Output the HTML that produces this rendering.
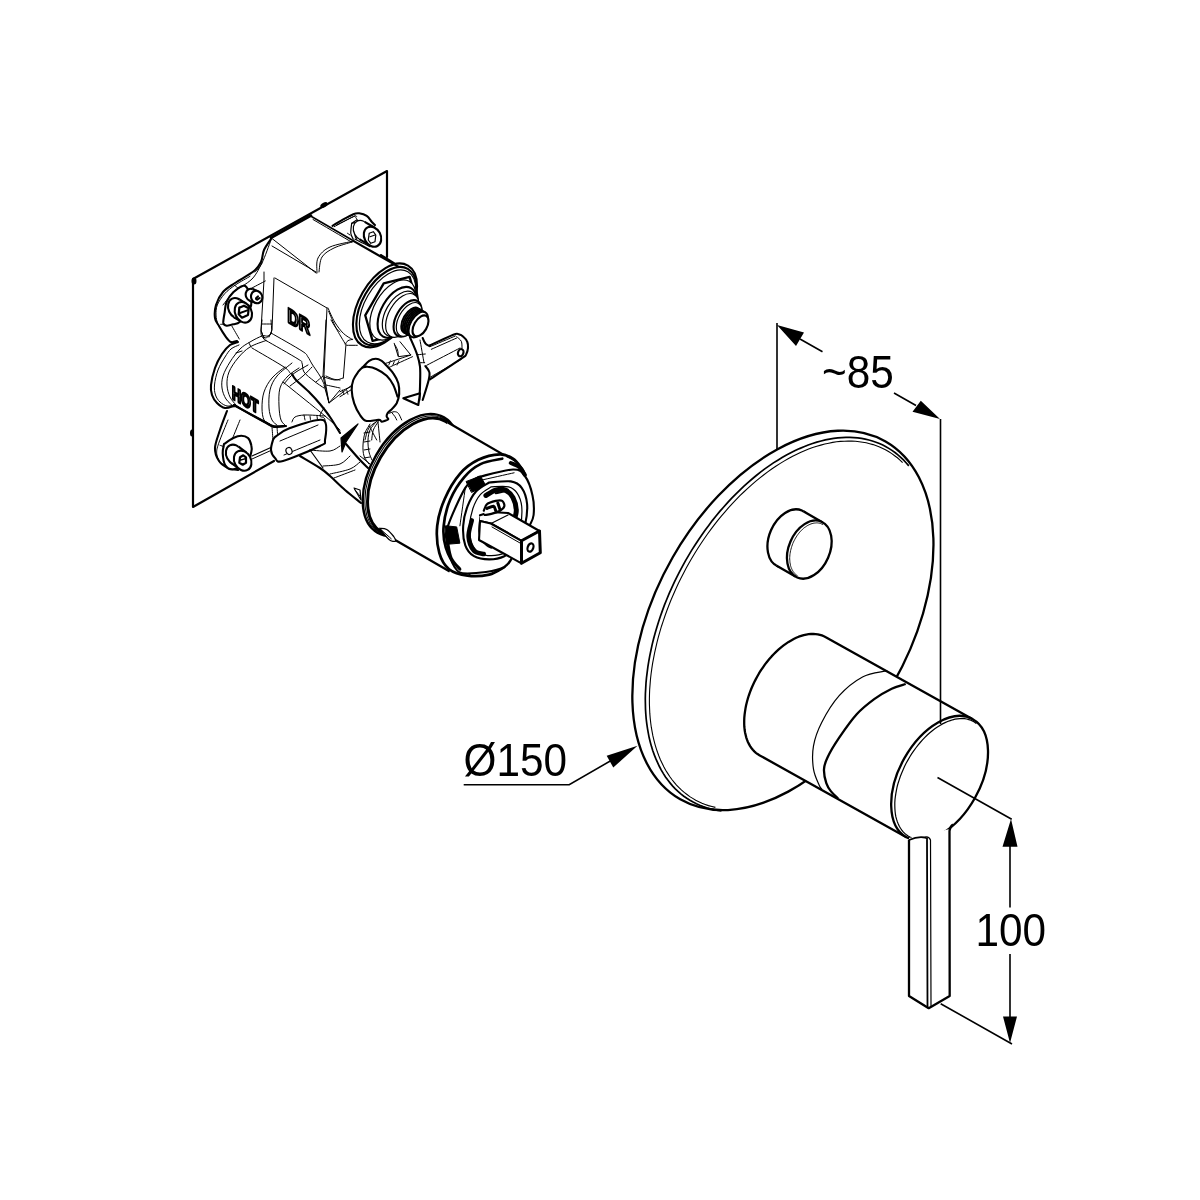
<!DOCTYPE html>
<html><head><meta charset="utf-8"><style>html,body{margin:0;padding:0;background:#fff;width:1200px;height:1200px;overflow:hidden}svg{display:block;filter:grayscale(1)}</style></head>
<body><svg width="1200" height="1200" viewBox="0 0 1200 1200">
<rect width="1200" height="1200" fill="#fff"/>
<path d="M387.0,257.0 L387.0,171.0 L193.0,279.0 L193.0,507.0 L274.0,461.0" fill="none" stroke="#000" stroke-width="2.2" stroke-linejoin="round" stroke-linecap="round"/>
<ellipse cx="194" cy="281" rx="2.5" ry="3.5" fill="#000"/>
<ellipse cx="324" cy="205" rx="4" ry="2.2" transform="rotate(-30 324 205)" fill="#000"/>
<ellipse cx="192" cy="433" rx="2" ry="3.5" fill="#000"/>
<path d="M311,216 L354,241 L397,265 L420,290 L430,320 L428,345 L469,345 L467,360 L430,380 L423,400 L405,418 L364,493 L361,503 L345,490 L330,476 L320,468 L300,456 L283,461 L275,458 L251,456 L243,470 L226,467 L219,462 L215,450 L218,436 L227,411 L216,402 L211,392 L211,370 L215,358 L221,353 L227,343 L225,336 L219,326 L215,318 L216,305 L223,292 L235,283 L256,270 L262,258 L271,239 Z" fill="#fff" stroke="none"/>
<path d="M271.0,239.0 C269.8,240.8 265.7,246.2 264.0,250.0 C262.3,253.8 262.7,258.5 261.0,262.0 C259.3,265.5 258.3,267.5 254.0,271.0 C249.7,274.5 240.2,279.5 235.0,283.0 C229.8,286.5 226.2,288.3 223.0,292.0 C219.8,295.7 217.3,300.7 216.0,305.0 C214.7,309.3 214.5,314.5 215.0,318.0 C215.5,321.5 217.2,322.8 219.0,326.0 C220.8,329.2 224.0,334.3 226.0,337.0 C228.0,339.7 229.2,341.3 231.0,342.0 C232.8,342.7 236.0,341.2 237.0,341.0" fill="none" stroke="#000" stroke-width="2.1" stroke-linejoin="round" stroke-linecap="round" />
<path d="M238.0,342.0 C236.7,342.5 232.7,343.0 230.0,345.0 C227.3,347.0 224.5,350.2 222.0,354.0 C219.5,357.8 216.8,362.8 215.0,368.0 C213.2,373.2 211.5,380.5 211.0,385.0 C210.5,389.5 211.0,392.0 212.0,395.0 C213.0,398.0 214.8,400.8 217.0,403.0 C219.2,405.2 222.2,407.5 225.0,408.0 C227.8,408.5 232.5,406.3 234.0,406.0" fill="none" stroke="#000" stroke-width="2.1" stroke-linejoin="round" stroke-linecap="round" />
<path d="M239.0,345.0 C237.7,345.7 233.3,347.0 231.0,349.0 C228.7,351.0 227.2,353.5 225.0,357.0 C222.8,360.5 219.8,365.3 218.0,370.0 C216.2,374.7 214.9,380.8 214.5,385.0 C214.1,389.2 214.6,392.2 215.5,395.0 C216.4,397.8 218.1,400.2 220.0,402.0 C221.9,403.8 224.7,405.5 227.0,406.0 C229.3,406.5 232.8,405.2 234.0,405.0" fill="none" stroke="#000" stroke-width="1.0" stroke-linejoin="round" stroke-linecap="round" />
<path d="M234.0,405.0 C236.7,406.5 244.8,411.2 250.0,414.0 C255.2,416.8 261.2,420.0 265.0,422.0 C268.8,424.0 269.7,425.3 273.0,426.0 C276.3,426.7 283.0,426.0 285.0,426.0" fill="none" stroke="#000" stroke-width="2.1" stroke-linejoin="round" stroke-linecap="round" />
<path d="M227.0,411.0 C225.8,414.2 222.0,423.8 220.0,430.0 C218.0,436.2 215.2,442.8 215.0,448.0 C214.8,453.2 216.8,457.7 219.0,461.0 C221.2,464.3 224.8,466.5 228.0,468.0 C231.2,469.5 236.3,469.7 238.0,470.0" fill="none" stroke="#000" stroke-width="2.1" stroke-linejoin="round" stroke-linecap="round" />
<path d="M271.0,237.8 L311.0,215.5" fill="none" stroke="#000" stroke-width="2.6" stroke-linejoin="round" stroke-linecap="round"/>
<path d="M250.0,276.3 C247.6,277.8 239.6,282.1 235.3,285.0 C231.1,287.9 227.7,290.3 224.7,293.7 C221.7,297.0 218.8,301.4 217.3,305.0 C215.9,308.6 216.0,312.0 216.0,315.0 C216.0,318.0 217.1,321.7 217.3,323.0" fill="none" stroke="#000" stroke-width="1.0" stroke-linejoin="round" stroke-linecap="round" />
<path d="M235.3,285.7 C235.8,286.1 237.6,287.9 238.0,288.3" fill="none" stroke="#000" stroke-width="1.0" stroke-linejoin="round" stroke-linecap="round" />
<path d="M220.7,324.3 C221.3,324.3 224.0,324.3 224.7,324.3" fill="none" stroke="#000" stroke-width="1.0" stroke-linejoin="round" stroke-linecap="round" />
<path d="M232.0,326.3 C233.2,328.4 238.1,336.9 239.3,339.0" fill="none" stroke="#000" stroke-width="1.0" stroke-linejoin="round" stroke-linecap="round" />
<path d="M224.7,312.3 C225.0,310.6 225.2,305.0 226.7,301.7 C228.1,298.3 230.6,295.0 233.3,292.3 C236.1,289.7 241.0,286.3 243.3,285.7 C245.7,285.0 246.2,287.0 247.3,288.3 C248.4,289.7 249.3,291.4 250.0,293.7 C250.7,295.9 251.3,299.2 251.3,301.7 C251.3,304.1 251.9,305.0 250.0,308.3 C248.1,311.7 242.8,319.0 240.0,321.7 C237.2,324.3 235.6,323.7 233.3,324.3 C231.1,325.0 228.3,325.9 226.7,325.7 C225.0,325.4 223.7,325.2 223.3,323.0 C223.0,320.8 224.4,314.1 224.7,312.3" fill="#fff" stroke="#000" stroke-width="2.1" stroke-linejoin="round" stroke-linecap="round" />
<ellipse cx="236.66666666666666" cy="308.3333333333333" rx="8.2" ry="10.7" transform="rotate(-25 236.66666666666666 308.3333333333333)" fill="#fff" stroke="#000" stroke-width="2.1"/>
<path d="M239.3,299.3 L245.9,303.3 L240.7,321.3 L234.1,317.3 Z" fill="#fff" stroke="none"/>
<path d="M239.3,299.3 L245.9,303.3 M240.7,321.3 L234.1,317.3" fill="none" stroke="#000" stroke-width="2.1"/>
<ellipse cx="243.33333333333334" cy="312.3333333333333" rx="8.2" ry="10.7" transform="rotate(-25 243.33333333333334 312.3333333333333)" fill="#fff" stroke="#000" stroke-width="2.1"/>
<path d="M239.3,307.7 L244.0,305.7 L248.7,308.3 L248.0,315.0 L242.0,317.7 L238.7,314.3 L239.3,307.7" fill="#fff" stroke="#000" stroke-width="2.2" stroke-linejoin="round" stroke-linecap="round"/>
<path d="M240.0,313.0 C241.2,312.6 246.1,310.8 247.3,310.3" fill="none" stroke="#000" stroke-width="2" stroke-linejoin="round" stroke-linecap="round" />
<ellipse cx="251.33333333333334" cy="295.0" rx="5.5" ry="6.3" transform="rotate(-25 251.33333333333334 295.0)" fill="#fff" stroke="#000" stroke-width="2.1"/>
<path d="M252.7,289.2 L258.0,291.2 L255.3,302.8 L250.0,300.8 Z" fill="#fff" stroke="none"/>
<path d="M252.7,289.2 L258.0,291.2 M255.3,302.8 L250.0,300.8" fill="none" stroke="#000" stroke-width="2.1"/>
<ellipse cx="256.6666666666667" cy="297.0" rx="5.5" ry="6.3" transform="rotate(-25 256.6666666666667 297.0)" fill="#fff" stroke="#000" stroke-width="2.1"/>
<path d="M258.0,296.3 C257.7,296.7 256.1,297.8 256.0,298.3 C255.9,298.9 256.7,299.7 257.3,299.7 C257.9,299.6 259.3,298.3 259.7,298.0" fill="none" stroke="#000" stroke-width="2" stroke-linejoin="round" stroke-linecap="round" />
<path d="M250.0,289.0 C252.6,287.7 262.8,282.3 265.3,281.0" fill="none" stroke="#000" stroke-width="1.0" stroke-linejoin="round" stroke-linecap="round" />
<path d="M228.0,420.0 C226.4,423.9 220.6,437.8 218.7,443.3 C216.8,448.9 216.6,450.3 216.7,453.3 C216.8,456.3 217.9,459.2 219.3,461.3 C220.8,463.4 224.3,465.2 225.3,466.0" fill="none" stroke="#000" stroke-width="1.0" stroke-linejoin="round" stroke-linecap="round" />
<path d="M224.0,444.0 C225.6,443.0 230.4,439.4 233.3,438.0 C236.2,436.6 238.9,435.7 241.3,435.7 C243.8,435.7 246.3,436.4 248.0,438.0 C249.7,439.6 250.8,443.0 251.3,445.3 C251.9,447.7 252.1,449.0 251.3,452.0 C250.6,455.0 249.7,460.4 246.7,463.3 C243.7,466.2 236.9,469.0 233.3,469.3 C229.8,469.7 227.1,468.0 225.3,465.3 C223.6,462.7 222.9,456.9 222.7,453.3 C222.4,449.8 223.8,445.6 224.0,444.0" fill="#fff" stroke="#000" stroke-width="2.1" stroke-linejoin="round" stroke-linecap="round" />
<ellipse cx="234.66666666666666" cy="454.6666666666667" rx="8.3" ry="10.5" transform="rotate(-28 234.66666666666666 454.6666666666667)" fill="#fff" stroke="#000" stroke-width="2.1"/>
<path d="M238.5,446.6 L246.5,452.6 L238.9,468.7 L230.9,462.7 Z" fill="#fff" stroke="none"/>
<path d="M238.5,446.6 L246.5,452.6 M238.9,468.7 L230.9,462.7" fill="none" stroke="#000" stroke-width="2.1"/>
<ellipse cx="242.66666666666666" cy="460.6666666666667" rx="8.3" ry="10.5" transform="rotate(-28 242.66666666666666 460.6666666666667)" fill="#fff" stroke="#000" stroke-width="2.1"/>
<path d="M240.0,457.3 L243.3,455.3 L246.0,457.3 L246.0,462.7 L242.7,464.7 L239.3,462.7 L240.0,457.3" fill="#fff" stroke="#000" stroke-width="2.2" stroke-linejoin="round" stroke-linecap="round"/>
<path d="M240.7,460.0 C241.4,459.8 244.6,458.9 245.3,458.7" fill="none" stroke="#000" stroke-width="1.5" stroke-linejoin="round" stroke-linecap="round" />
<path d="M220.0,445.3 C220.7,445.6 223.3,446.4 224.0,446.7" fill="none" stroke="#000" stroke-width="1.0" stroke-linejoin="round" stroke-linecap="round" />
<path d="M232.7,438.0 C233.9,435.0 238.8,423.0 240.0,420.0" fill="none" stroke="#000" stroke-width="1.0" stroke-linejoin="round" stroke-linecap="round" />
<path d="M252.0,456.0 L272.0,447.0" fill="none" stroke="#000" stroke-width="1.2" stroke-linejoin="round" stroke-linecap="round"/>
<path d="M252.0,459.0 L272.0,450.0" fill="none" stroke="#000" stroke-width="1.0" stroke-linejoin="round" stroke-linecap="round"/>
<path d="M275.0,278.0 L327.0,308.0" fill="none" stroke="#000" stroke-width="1.0" stroke-linejoin="round" stroke-linecap="round"/>
<path d="M264.0,272.0 L264.0,280.0 L261.0,330.0 L264.0,339.0" fill="none" stroke="#000" stroke-width="1.0" stroke-linejoin="round" stroke-linecap="round"/>
<path d="M274.0,278.0 L272.0,330.0 L269.0,337.0" fill="none" stroke="#000" stroke-width="1.0" stroke-linejoin="round" stroke-linecap="round"/>
<path d="M261.0,331.0 C261.7,332.2 263.3,337.5 265.0,338.0 C266.7,338.5 270.0,334.7 271.0,334.0" fill="none" stroke="#000" stroke-width="1.0" stroke-linejoin="round" stroke-linecap="round" />
<path d="M327.0,308.0 L324.0,375.0 L329.0,403.0" fill="none" stroke="#000" stroke-width="1.0" stroke-linejoin="round" stroke-linecap="round"/>
<path d="M328.0,308.0 C329.1,310.3 332.1,317.8 334.7,322.0 C337.2,326.2 340.4,330.4 343.3,333.3 C346.2,336.2 350.6,338.3 352.0,339.3" fill="none" stroke="#000" stroke-width="1.0" stroke-linejoin="round" stroke-linecap="round" />
<path d="M328.7,311.3 C329.9,314.1 333.2,322.6 336.0,328.0 C338.8,333.4 343.8,341.3 345.3,344.0" fill="none" stroke="#000" stroke-width="1.0" stroke-linejoin="round" stroke-linecap="round" />
<path d="M345.3,344.0 C345.8,343.4 346.8,341.4 348.0,340.7 C349.2,339.9 351.9,339.6 352.7,339.3" fill="none" stroke="#000" stroke-width="1.0" stroke-linejoin="round" stroke-linecap="round" />
<path d="M346.7,345.3 C348.4,345.3 355.6,345.3 357.3,345.3" fill="none" stroke="#000" stroke-width="1.0" stroke-linejoin="round" stroke-linecap="round" />
<path d="M346.0,344.0 L343.3,378.0" fill="none" stroke="#000" stroke-width="1.0" stroke-linejoin="round" stroke-linecap="round"/>
<path d="M324.0,385.0 L329.0,403.0 L352.0,385.0" fill="none" stroke="#000" stroke-width="1.0" stroke-linejoin="round" stroke-linecap="round"/>
<path d="M324.0,377.0 C325.8,377.5 331.8,379.8 335.0,380.0 C338.2,380.2 341.7,378.3 343.0,378.0" fill="none" stroke="#000" stroke-width="1.0" stroke-linejoin="round" stroke-linecap="round" />
<path d="M272.0,238.5 L316.0,273.0" fill="none" stroke="#000" stroke-width="1.0" stroke-linejoin="round" stroke-linecap="round"/>
<path d="M272.0,246.0 L316.0,272.0" fill="none" stroke="#000" stroke-width="1.0" stroke-linejoin="round" stroke-linecap="round"/>
<path d="M317.0,273.0 C317.2,270.5 315.8,262.3 318.0,258.0 C320.2,253.7 324.0,249.8 330.0,247.0 C336.0,244.2 350.0,242.0 354.0,241.0" fill="none" stroke="#000" stroke-width="1.0" stroke-linejoin="round" stroke-linecap="round" />
<path d="M319.0,272.0 C319.5,269.5 319.5,261.0 322.0,257.0 C324.5,253.0 329.0,250.5 334.0,248.0 C339.0,245.5 349.0,243.0 352.0,242.0" fill="none" stroke="#000" stroke-width="1.0" stroke-linejoin="round" stroke-linecap="round" />
<path d="M255.0,272.0 C256.2,270.5 259.3,268.3 262.0,263.0 C264.7,257.7 269.5,243.8 271.0,240.0" fill="none" stroke="#000" stroke-width="1.0" stroke-linejoin="round" stroke-linecap="round" />
<path d="M233.0,292.0 C236.2,289.8 247.2,283.8 252.0,279.0 C256.8,274.2 260.3,265.7 262.0,263.0" fill="none" stroke="#000" stroke-width="1.0" stroke-linejoin="round" stroke-linecap="round" />
<path d="M223.0,305.0 C224.7,302.8 231.3,294.2 233.0,292.0" fill="none" stroke="#000" stroke-width="1.0" stroke-linejoin="round" stroke-linecap="round" />
<text x="0" y="0" font-family="Liberation Sans, sans-serif" font-weight="bold" font-size="20" fill="#fff" stroke="#000" stroke-width="2.4" stroke-linejoin="round" transform="matrix(0.78,0.45,0,1.05,287.5,322)">DR</text>
<text x="0" y="0" font-family="Liberation Sans, sans-serif" font-weight="bold" font-size="16" fill="#fff" stroke="#000" stroke-width="2.2" stroke-linejoin="round" transform="matrix(0.78,0.45,0,1.15,232,398.5)">HOT</text>
<path d="M262.0,320.0 C261.8,322.2 260.9,330.1 261.0,333.0 C261.1,335.9 261.7,336.2 262.5,337.5 C263.3,338.8 265.4,340.0 266.0,340.5" fill="none" stroke="#000" stroke-width="1.0" stroke-linejoin="round" stroke-linecap="round" />
<path d="M271.0,320.0 C271.1,322.0 272.0,329.3 271.5,332.0 C271.0,334.7 269.6,335.3 268.0,336.0 C266.4,336.7 265.0,335.0 262.0,336.0 C259.0,337.0 253.7,339.8 250.0,342.0 C246.3,344.2 243.3,345.7 240.0,349.0 C236.7,352.3 232.8,357.5 230.0,362.0 C227.2,366.5 224.3,371.7 223.0,376.0 C221.7,380.3 221.5,384.2 222.0,388.0 C222.5,391.8 224.0,395.8 226.0,399.0 C228.0,402.2 232.7,405.7 234.0,407.0" fill="none" stroke="#000" stroke-width="1.0" stroke-linejoin="round" stroke-linecap="round" />
<path d="M266.0,340.5 C263.3,341.6 254.7,344.1 250.0,347.0 C245.3,349.9 241.5,353.8 238.0,358.0 C234.5,362.2 230.8,367.5 229.0,372.0 C227.2,376.5 226.8,380.8 227.0,385.0 C227.2,389.2 228.5,393.7 230.0,397.0 C231.5,400.3 235.0,403.7 236.0,405.0" fill="none" stroke="#000" stroke-width="1.0" stroke-linejoin="round" stroke-linecap="round" />
<path d="M262.0,324.0 C263.5,324.0 269.5,324.0 271.0,324.0" fill="none" stroke="#000" stroke-width="1.0" stroke-linejoin="round" stroke-linecap="round" />
<path d="M271.0,333.0 C276.2,336.0 295.8,347.0 302.0,351.0 C308.2,355.0 306.3,354.8 308.0,357.0 C309.7,359.2 310.0,360.8 312.0,364.0 C314.0,367.2 318.0,372.7 320.0,376.0 C322.0,379.3 323.3,382.7 324.0,384.0" fill="none" stroke="#000" stroke-width="1.0" stroke-linejoin="round" stroke-linecap="round" />
<path d="M266.0,340.5 C271.3,343.6 292.0,355.2 298.0,359.0 C304.0,362.8 301.0,360.8 302.0,363.0 C303.0,365.2 302.0,369.0 304.0,372.0 C306.0,375.0 310.7,378.3 314.0,381.0 C317.3,383.7 322.3,386.8 324.0,388.0" fill="none" stroke="#000" stroke-width="1.0" stroke-linejoin="round" stroke-linecap="round" />
<path d="M252.0,348.0 C257.3,351.2 277.7,362.8 284.0,367.0 C290.3,371.2 288.7,371.8 290.0,373.0 C291.3,374.2 291.7,373.8 292.0,374.0" fill="none" stroke="#000" stroke-width="1.0" stroke-linejoin="round" stroke-linecap="round" />
<path d="M249.0,343.0 C249.3,343.7 250.7,346.3 251.0,347.0" fill="none" stroke="#000" stroke-width="1.0" stroke-linejoin="round" stroke-linecap="round" />
<path d="M236.0,353.0 C237.0,352.7 241.0,351.3 242.0,351.0" fill="none" stroke="#000" stroke-width="1.0" stroke-linejoin="round" stroke-linecap="round" />
<path d="M285.0,367.0 C282.8,368.8 275.5,373.8 272.0,378.0 C268.5,382.2 265.7,387.0 264.0,392.0 C262.3,397.0 262.0,403.3 262.0,408.0 C262.0,412.7 262.7,417.3 264.0,420.0 C265.3,422.7 269.0,423.3 270.0,424.0" fill="none" stroke="#000" stroke-width="1.0" stroke-linejoin="round" stroke-linecap="round" />
<path d="M292.0,363.0 C289.5,365.2 280.7,371.5 277.0,376.0 C273.3,380.5 271.3,384.7 270.0,390.0 C268.7,395.3 268.7,403.0 269.0,408.0 C269.3,413.0 270.7,417.2 272.0,420.0 C273.3,422.8 276.2,424.2 277.0,425.0" fill="none" stroke="#000" stroke-width="1.0" stroke-linejoin="round" stroke-linecap="round" />
<path d="M299.0,368.0 C297.2,369.3 291.2,372.7 288.0,376.0 C284.8,379.3 281.5,383.0 280.0,388.0 C278.5,393.0 278.8,400.7 279.0,406.0 C279.2,411.3 279.8,416.7 281.0,420.0 C282.2,423.3 285.2,425.0 286.0,426.0" fill="none" stroke="#000" stroke-width="1.0" stroke-linejoin="round" stroke-linecap="round" />
<path d="M308.0,365.0 C306.0,366.2 299.0,370.0 296.0,372.0 C293.0,374.0 292.0,375.0 290.0,377.0 C288.0,379.0 285.0,382.8 284.0,384.0" fill="none" stroke="#000" stroke-width="1.0" stroke-linejoin="round" stroke-linecap="round" />
<path d="M312.0,367.0 C310.5,368.5 306.7,372.8 303.0,376.0 C299.3,379.2 292.2,384.3 290.0,386.0" fill="none" stroke="#000" stroke-width="1.0" stroke-linejoin="round" stroke-linecap="round" />
<path d="M283.0,382.0 C290.0,387.7 315.5,408.0 325.0,416.0 C334.5,424.0 337.5,427.7 340.0,430.0" fill="none" stroke="#000" stroke-width="1.0" stroke-linejoin="round" stroke-linecap="round" />
<path d="M292.0,374.0 C292.7,375.0 293.0,376.8 296.0,380.0 C299.0,383.2 306.0,389.0 310.0,393.0 C314.0,397.0 316.7,400.0 320.0,404.0 C323.3,408.0 326.7,412.2 330.0,417.0 C333.3,421.8 338.3,430.3 340.0,433.0" fill="none" stroke="#000" stroke-width="2.1" stroke-linejoin="round" stroke-linecap="round" />
<path d="M326.0,320.0 L323.0,376.0 L329.0,403.0 L340.0,390.0" fill="none" stroke="#000" stroke-width="1.0" stroke-linejoin="round" stroke-linecap="round"/>
<path d="M326.0,376.0 C327.2,376.5 330.7,378.3 333.0,379.0 C335.3,379.7 338.8,379.8 340.0,380.0" fill="none" stroke="#000" stroke-width="1.0" stroke-linejoin="round" stroke-linecap="round" />
<path d="M326.0,385.0 C328.3,385.5 337.7,387.5 340.0,388.0" fill="none" stroke="#000" stroke-width="1.0" stroke-linejoin="round" stroke-linecap="round" />
<path d="M316.0,382.0 C317.2,381.0 321.8,377.0 323.0,376.0" fill="none" stroke="#000" stroke-width="1.0" stroke-linejoin="round" stroke-linecap="round" />
<path d="M331.0,320.0 C331.8,321.3 334.5,326.0 336.0,328.0 C337.5,330.0 339.3,331.3 340.0,332.0" fill="none" stroke="#000" stroke-width="1.0" stroke-linejoin="round" stroke-linecap="round" />
<path d="M234.0,405.0 C239.7,408.2 261.0,420.3 268.0,424.0 C275.0,427.7 273.0,426.7 276.0,427.0 C279.0,427.3 284.3,426.2 286.0,426.0" fill="none" stroke="#000" stroke-width="2.1" stroke-linejoin="round" stroke-linecap="round" />
<path d="M292.0,422.0 C292.5,421.2 292.8,418.2 295.0,417.0 C297.2,415.8 300.0,415.2 305.0,415.0 C310.0,414.8 321.7,415.8 325.0,416.0" fill="none" stroke="#000" stroke-width="1.0" stroke-linejoin="round" stroke-linecap="round" />
<path d="M304.0,415.0 C304.2,415.8 304.8,419.2 305.0,420.0" fill="none" stroke="#000" stroke-width="1.0" stroke-linejoin="round" stroke-linecap="round" />
<path d="M310.0,416.0 C310.1,416.7 310.4,419.3 310.5,420.0" fill="none" stroke="#000" stroke-width="1.0" stroke-linejoin="round" stroke-linecap="round" />
<path d="M317.0,416.0 C317.1,416.7 317.4,419.3 317.5,420.0" fill="none" stroke="#000" stroke-width="1.0" stroke-linejoin="round" stroke-linecap="round" />
<path d="M324.0,408.0 C323.3,409.3 319.8,414.0 320.0,416.0 C320.2,418.0 324.7,416.0 325.0,420.0 C325.3,424.0 322.5,436.7 322.0,440.0" fill="none" stroke="#000" stroke-width="1.0" stroke-linejoin="round" stroke-linecap="round" />
<path d="M272.0,427.0 C272.2,429.2 272.8,437.8 273.0,440.0" fill="none" stroke="#000" stroke-width="1.0" stroke-linejoin="round" stroke-linecap="round" />
<path d="M277.0,427.0 C277.2,429.2 277.8,437.8 278.0,440.0" fill="none" stroke="#000" stroke-width="1.0" stroke-linejoin="round" stroke-linecap="round" />
<path d="M380.8,255.0 C383.7,256.8 393.2,262.8 398.3,265.8 C403.4,268.9 408.9,270.5 411.7,273.3 C414.5,276.1 413.9,278.1 415.0,282.5 C416.1,286.9 417.5,297.1 418.0,300.0" fill="none" stroke="#000" stroke-width="2.1" stroke-linejoin="round" stroke-linecap="round" />
<ellipse cx="385.0" cy="305.4" rx="46" ry="25.8" transform="rotate(-60 385.0 305.4)" fill="#fff" stroke="#000" stroke-width="2.1"/>
<ellipse cx="386.3" cy="306.1" rx="43" ry="24.1" transform="rotate(-60 386.3 306.1)" fill="#fff" stroke="#000" stroke-width="2.1"/>
<ellipse cx="387.6" cy="306.9" rx="40.5" ry="22.7" transform="rotate(-60 387.6 306.9)" fill="#fff" stroke="#000" stroke-width="1.2"/>
<path d="M409.6,276.9 L417.0,302.5 L398.5,334.5 L372.6,340.9 L365.2,315.3 L383.7,283.3 Z" fill="#fff" stroke="#000" stroke-width="2.3" stroke-linejoin="round"/>
<ellipse cx="392.8" cy="309.9" rx="33" ry="18.5" transform="rotate(-60 392.8 309.9)" fill="#fff" stroke="#000" stroke-width="1.2"/>
<ellipse cx="397.1" cy="312.4" rx="28" ry="15.7" transform="rotate(-60 397.1 312.4)" fill="#fff" stroke="#000" stroke-width="2.1"/>
<ellipse cx="399.7" cy="313.9" rx="25" ry="14.0" transform="rotate(-60 399.7 313.9)" fill="#fff" stroke="#000" stroke-width="1.2"/>
<ellipse cx="402.3" cy="315.4" rx="24" ry="13.4" transform="rotate(-60 402.3 315.4)" fill="#fff" stroke="#000" stroke-width="1.2"/>
<ellipse cx="407.5" cy="318.4" rx="20" ry="11.2" transform="rotate(-60 407.5 318.4)" fill="#fff" stroke="#000" stroke-width="2.1"/>
<ellipse cx="409.2" cy="319.4" rx="18.5" ry="10.4" transform="rotate(-60 409.2 319.4)" fill="#fff" stroke="#000" stroke-width="1.2"/>
<ellipse cx="411.0" cy="320.4" rx="14" ry="7.8" transform="rotate(-60 411.0 320.4)" fill="#fff" stroke="#000" stroke-width="2.0"/>
<ellipse cx="412.5" cy="321.2" rx="14" ry="7.8" transform="rotate(-60 412.5 321.2)" fill="#fff" stroke="#000" stroke-width="2.0"/>
<ellipse cx="413.9" cy="322.1" rx="14" ry="7.8" transform="rotate(-60 413.9 322.1)" fill="#fff" stroke="#000" stroke-width="2.0"/>
<ellipse cx="415.4" cy="322.9" rx="14" ry="7.8" transform="rotate(-60 415.4 322.9)" fill="#fff" stroke="#000" stroke-width="2.0"/>
<ellipse cx="416.9" cy="323.8" rx="14" ry="7.8" transform="rotate(-60 416.9 323.8)" fill="#fff" stroke="#000" stroke-width="2.0"/>
<ellipse cx="418.3" cy="324.6" rx="14" ry="7.8" transform="rotate(-60 418.3 324.6)" fill="#fff" stroke="#000" stroke-width="2.0"/>
<ellipse cx="420.5" cy="325.9" rx="11.5" ry="6.4" transform="rotate(-60 420.5 325.9)" fill="#fff" stroke="#000" stroke-width="2.1"/>
<path d="M332.5,225.8 C333.9,225.0 337.4,222.8 340.8,220.8 C344.3,218.9 350.3,215.4 353.3,214.2 C356.4,212.9 356.9,213.1 359.2,213.3 C361.4,213.6 364.6,214.4 366.7,215.8 C368.8,217.2 370.3,220.1 371.7,221.7 C373.1,223.2 374.4,224.4 375.0,225.0" fill="none" stroke="#000" stroke-width="2.1" stroke-linejoin="round" stroke-linecap="round" />
<path d="M334.2,226.7 C337.4,225.0 349.6,218.3 353.3,216.7 C357.1,215.0 356.1,216.7 356.7,216.7" fill="none" stroke="#000" stroke-width="1.0" stroke-linejoin="round" stroke-linecap="round" />
<path d="M336.7,225.0 C339.7,223.5 351.9,217.4 355.0,215.8" fill="none" stroke="#000" stroke-width="1.0" stroke-linejoin="round" stroke-linecap="round" />
<path d="M355.8,217.5 C356.2,218.2 357.9,221.0 358.3,221.7" fill="none" stroke="#000" stroke-width="1.0" stroke-linejoin="round" stroke-linecap="round" />
<path d="M351.7,223.3 L356.7,220.0 L359.2,220.8 L355.8,222.5 L351.7,223.3" fill="none" stroke="#000" stroke-width="1.2" stroke-linejoin="round" stroke-linecap="round"/>
<path d="M351.7,223.3 C351.5,225.0 350.6,230.7 350.8,233.3 C351.1,236.0 352.9,238.2 353.3,239.2" fill="none" stroke="#000" stroke-width="1.2" stroke-linejoin="round" stroke-linecap="round" />
<path d="M355.8,222.5 C355.7,224.6 354.9,232.2 355.0,235.0 C355.1,237.8 356.4,238.5 356.7,239.2" fill="none" stroke="#000" stroke-width="1.2" stroke-linejoin="round" stroke-linecap="round" />
<path d="M347.5,233.3 C347.9,233.6 349.6,234.7 350.0,235.0" fill="none" stroke="#000" stroke-width="1.0" stroke-linejoin="round" stroke-linecap="round" />
<ellipse cx="362" cy="230.5" rx="8.2" ry="10.5" transform="rotate(-28 362 230.5)" fill="#fff" stroke="#000" stroke-width="1.2"/>
<path d="M364.7,221.8 L375.2,228.0 L369.8,245.4 L359.3,239.2 Z" fill="#fff" stroke="none"/>
<path d="M364.7,221.8 L375.2,228.0 M369.8,245.4 L359.3,239.2" fill="none" stroke="#000" stroke-width="2.1"/>
<ellipse cx="372.5" cy="236.7" rx="8.2" ry="10.5" transform="rotate(-28 372.5 236.7)" fill="#fff" stroke="#000" stroke-width="2.1"/>
<path d="M369.2,233.3 L373.3,231.7 L375.8,235.0 L375.0,241.7 L370.8,243.3 L368.3,240.0 L369.2,233.3" fill="#fff" stroke="#000" stroke-width="1.2" stroke-linejoin="round" stroke-linecap="round"/>
<path d="M370.0,236.7 L375.0,235.0" fill="none" stroke="#000" stroke-width="1.2" stroke-linejoin="round" stroke-linecap="round"/>
<path d="M355.0,239.2 C356.4,239.9 360.8,242.1 363.3,243.3 C365.8,244.6 368.9,246.1 370.0,246.7" fill="none" stroke="#000" stroke-width="1.2" stroke-linejoin="round" stroke-linecap="round" />
<path d="M311.0,216.3 C318.1,220.4 346.2,236.7 353.3,240.8" fill="none" stroke="#000" stroke-width="1.6" stroke-linejoin="round" stroke-linecap="round" />
<path d="M313.0,219.5 C319.5,223.3 345.5,238.5 352.0,242.3" fill="none" stroke="#000" stroke-width="1.0" stroke-linejoin="round" stroke-linecap="round" />
<path d="M353.3,240.8 C360.8,245.1 390.8,262.4 398.3,266.7" fill="none" stroke="#000" stroke-width="2.1" stroke-linejoin="round" stroke-linecap="round" />
<path d="M430.0,345.3 C433.9,343.6 448.6,336.5 453.3,334.7 C458.1,332.8 457.0,334.0 458.7,334.3 C460.3,334.7 461.9,335.4 463.3,336.7 C464.8,337.9 466.6,340.1 467.3,342.0 C468.1,343.9 468.2,345.9 468.0,348.0 C467.8,350.1 467.1,352.9 466.0,354.7 C464.9,356.4 467.3,354.6 461.3,358.7 C455.3,362.8 435.3,379.1 430.0,379.3 C424.7,379.6 429.3,365.7 429.3,360.0 C429.3,354.3 429.9,347.8 430.0,345.3" fill="#fff" stroke="none"/>
<path d="M430.0,345.3 C433.9,343.6 448.6,336.5 453.3,334.7 C458.1,332.8 457.0,334.0 458.7,334.3 C460.3,334.7 461.9,335.4 463.3,336.7 C464.8,337.9 466.6,340.1 467.3,342.0 C468.1,343.9 468.2,345.9 468.0,348.0 C467.8,350.1 467.1,352.9 466.0,354.7 C464.9,356.4 467.3,354.6 461.3,358.7 C455.3,362.8 435.2,375.9 430.0,379.3" fill="none" stroke="#000" stroke-width="2.1" stroke-linejoin="round" stroke-linecap="round" />
<path d="M430.0,346.7 C434.2,344.9 451.1,337.8 455.3,336.0" fill="none" stroke="#000" stroke-width="1.0" stroke-linejoin="round" stroke-linecap="round" />
<path d="M431.3,349.3 C435.6,347.4 452.4,339.9 456.7,338.0" fill="none" stroke="#000" stroke-width="1.0" stroke-linejoin="round" stroke-linecap="round" />
<path d="M426.7,365.3 C432.2,362.4 454.4,350.9 460.0,348.0" fill="none" stroke="#000" stroke-width="1.0" stroke-linejoin="round" stroke-linecap="round" />
<path d="M430.0,377.3 C435.2,374.3 456.1,362.3 461.3,359.3" fill="none" stroke="#000" stroke-width="1.0" stroke-linejoin="round" stroke-linecap="round" />
<path d="M456.7,336.7 C457.4,337.4 460.4,339.4 461.3,341.3 C462.2,343.2 461.9,346.9 462.0,348.0" fill="none" stroke="#000" stroke-width="1.0" stroke-linejoin="round" stroke-linecap="round" />
<ellipse cx="460.7" cy="352.7" rx="2.7" ry="3.7" transform="rotate(20 460.7 352.7)" fill="#fff" stroke="#000" stroke-width="2.1"/>
<path d="M422.7,338.0 C423.1,338.9 424.2,342.0 425.3,343.3 C426.4,344.7 428.7,345.6 429.3,346.0" fill="none" stroke="#000" stroke-width="2.1" stroke-linejoin="round" stroke-linecap="round" />
<path d="M420.0,340.0 C420.7,343.8 423.3,358.9 424.0,362.7" fill="none" stroke="#000" stroke-width="1.0" stroke-linejoin="round" stroke-linecap="round" />
<path d="M418.0,354.7 C419.2,354.6 424.1,354.1 425.3,354.0" fill="none" stroke="#000" stroke-width="1.0" stroke-linejoin="round" stroke-linecap="round" />
<path d="M420.0,362.7 C420.8,362.7 423.9,362.7 424.7,362.7" fill="none" stroke="#000" stroke-width="1.0" stroke-linejoin="round" stroke-linecap="round" />
<path d="M425.3,366.0 C426.0,367.0 428.8,369.7 429.3,372.0 C429.9,374.3 429.8,375.3 428.7,380.0 C427.6,384.7 423.7,396.7 422.7,400.0" fill="none" stroke="#000" stroke-width="2.1" stroke-linejoin="round" stroke-linecap="round" />
<path d="M385.8,363.3 C390.0,361.9 406.7,356.4 410.8,355.0" fill="none" stroke="#000" stroke-width="1.0" stroke-linejoin="round" stroke-linecap="round" />
<path d="M388.8,367.5 C392.7,365.7 408.5,358.5 412.5,356.7" fill="none" stroke="#000" stroke-width="1.0" stroke-linejoin="round" stroke-linecap="round" />
<path d="M388.8,365.0 C389.0,364.3 390.1,361.5 390.4,360.8" fill="none" stroke="#000" stroke-width="1.0" stroke-linejoin="round" stroke-linecap="round" />
<path d="M392.9,365.0 C393.2,364.3 394.3,361.5 394.6,360.8" fill="none" stroke="#000" stroke-width="1.0" stroke-linejoin="round" stroke-linecap="round" />
<path d="M397.1,365.0 C397.4,364.3 398.5,361.5 398.8,360.8" fill="none" stroke="#000" stroke-width="1.0" stroke-linejoin="round" stroke-linecap="round" />
<path d="M340.0,391.7 C341.8,390.8 349.0,387.5 350.8,386.7" fill="none" stroke="#000" stroke-width="1.0" stroke-linejoin="round" stroke-linecap="round" />
<path d="M340.0,396.7 C341.8,395.6 349.0,391.1 350.8,390.0" fill="none" stroke="#000" stroke-width="1.0" stroke-linejoin="round" stroke-linecap="round" />
<path d="M342.5,390.0 C342.7,390.7 343.5,393.5 343.8,394.2" fill="none" stroke="#000" stroke-width="1.0" stroke-linejoin="round" stroke-linecap="round" />
<path d="M346.7,390.0 C346.9,390.7 347.7,393.5 347.9,394.2" fill="none" stroke="#000" stroke-width="1.0" stroke-linejoin="round" stroke-linecap="round" />
<path d="M394.2,343.3 L398.3,356.7 L410.8,355.0 L400.0,341.7" fill="none" stroke="#000" stroke-width="1.0" stroke-linejoin="round" stroke-linecap="round"/>
<path d="M395.0,345.0 C395.4,345.8 396.9,348.2 397.5,350.0 C398.1,351.8 398.2,354.9 398.3,355.8" fill="none" stroke="#000" stroke-width="1.0" stroke-linejoin="round" stroke-linecap="round" />
<path d="M410.0,337.3 C411.1,340.0 415.0,348.4 416.7,353.3 C418.3,358.2 419.4,361.1 420.0,366.7 C420.6,372.2 420.1,381.1 420.0,386.7 C419.9,392.2 419.4,397.8 419.3,400.0" fill="none" stroke="#000" stroke-width="2.1" stroke-linejoin="round" stroke-linecap="round" />
<path d="M403.3,398.3 L420.0,393.3 L418.3,405.0 L403.3,398.3" fill="#fff" stroke="#000" stroke-width="2.1" stroke-linejoin="round" stroke-linecap="round"/>
<path d="M389.2,413.3 C390.0,413.1 392.6,411.7 394.2,411.7 C395.7,411.7 397.1,411.9 398.3,413.3 C399.6,414.7 401.1,418.9 401.7,420.0" fill="none" stroke="#000" stroke-width="1.0" stroke-linejoin="round" stroke-linecap="round" />
<path d="M391.7,412.5 C392.2,413.2 394.2,415.4 395.0,416.7 C395.8,417.9 396.4,419.4 396.7,420.0" fill="none" stroke="#000" stroke-width="1.0" stroke-linejoin="round" stroke-linecap="round" />
<path d="M365.0,440.0 C365.7,437.9 366.8,430.8 369.2,427.5 C371.5,424.2 377.5,421.2 379.2,420.0" fill="none" stroke="#000" stroke-width="1.0" stroke-linejoin="round" stroke-linecap="round" />
<path d="M371.7,440.0 C371.9,438.3 372.2,433.1 373.3,430.0 C374.4,426.9 377.5,423.1 378.3,421.7" fill="none" stroke="#000" stroke-width="1.0" stroke-linejoin="round" stroke-linecap="round" />
<path d="M369.2,425.8 C370.4,428.2 375.4,437.6 376.7,440.0" fill="none" stroke="#000" stroke-width="1.0" stroke-linejoin="round" stroke-linecap="round" />
<path d="M363.3,366.7 C364.3,365.7 367.1,362.2 369.2,360.8 C371.2,359.5 373.8,358.8 375.8,358.8 C377.9,358.8 379.9,359.7 381.7,360.8 C383.5,362.0 384.7,363.8 386.7,365.8 C388.6,367.9 391.4,370.4 393.3,373.3 C395.3,376.2 397.4,379.9 398.3,383.3 C399.3,386.8 399.4,390.8 399.2,394.2 C398.9,397.5 397.9,400.8 396.7,403.3 C395.4,405.8 393.2,407.5 391.7,409.2 C390.1,410.8 388.3,412.1 387.5,413.3 C386.7,414.6 386.5,415.7 386.7,416.7 C386.8,417.6 388.6,418.5 388.3,419.2 C388.1,419.9 386.1,420.4 385.0,420.8 C383.9,421.2 382.5,421.8 381.7,421.7 C380.8,421.5 380.8,420.3 380.0,420.0 C379.2,419.7 379.0,419.9 376.7,420.0 C374.3,420.1 368.6,421.7 365.8,420.8 C363.1,420.0 361.9,417.9 360.0,415.0 C358.1,412.1 355.6,407.5 354.2,403.3 C352.8,399.2 351.8,393.9 351.7,390.0 C351.5,386.1 352.2,383.1 353.3,380.0 C354.4,376.9 356.7,373.9 358.3,371.7 C360.0,369.4 362.5,367.5 363.3,366.7" fill="#fff" stroke="#000" stroke-width="2.1" stroke-linejoin="round" stroke-linecap="round" />
<path d="M362.5,367.5 C363.3,367.4 365.1,366.4 367.5,366.7 C369.9,366.9 373.5,367.6 376.7,369.2 C379.9,370.7 383.9,373.2 386.7,375.8 C389.4,378.5 391.5,381.5 393.3,385.0 C395.1,388.5 396.8,394.7 397.5,396.7" fill="none" stroke="#000" stroke-width="2.1" stroke-linejoin="round" stroke-linecap="round" />
<path d="M275.0,437.0 C277.5,435.5 282.0,430.8 290.0,428.0 C298.0,425.2 317.2,418.0 323.0,420.0 C328.8,422.0 325.5,435.7 325.0,440.0 C324.5,444.3 327.0,442.5 320.0,446.0 C313.0,449.5 290.5,459.0 283.0,461.0 C275.5,463.0 277.0,459.8 275.0,458.0 C273.0,456.2 271.3,453.0 271.0,450.0 C270.7,447.0 272.3,442.2 273.0,440.0 C273.7,437.8 274.7,437.5 275.0,437.0" fill="#fff" stroke="#000" stroke-width="2.1" stroke-linejoin="round" stroke-linecap="round" />
<path d="M280.0,441.0 C286.3,438.3 311.7,427.7 318.0,425.0" fill="none" stroke="#000" stroke-width="1.0" stroke-linejoin="round" stroke-linecap="round" />
<path d="M284.0,455.0 C290.0,452.5 314.0,442.5 320.0,440.0" fill="none" stroke="#000" stroke-width="1.0" stroke-linejoin="round" stroke-linecap="round" />
<ellipse cx="289" cy="451" rx="3" ry="3.5" transform="rotate(-20 289 451)" fill="#fff" stroke="#000" stroke-width="1.2"/>
<path d="M300.0,456.0 C303.3,458.0 315.0,464.7 320.0,468.0 C325.0,471.3 325.8,472.3 330.0,476.0 C334.2,479.7 339.8,485.5 345.0,490.0 C350.2,494.5 358.3,500.8 361.0,503.0" fill="none" stroke="#000" stroke-width="2.1" stroke-linejoin="round" stroke-linecap="round" />
<path d="M310.0,450.0 C312.2,453.0 320.8,465.0 323.0,468.0" fill="none" stroke="#000" stroke-width="1.2" stroke-linejoin="round" stroke-linecap="round" />
<path d="M310.0,450.0 C313.3,450.2 325.0,451.7 330.0,451.0 C335.0,450.3 338.3,446.8 340.0,446.0" fill="none" stroke="#000" stroke-width="1.0" stroke-linejoin="round" stroke-linecap="round" />
<path d="M323.0,466.0 C325.8,465.7 335.5,465.7 340.0,464.0 C344.5,462.3 348.3,457.3 350.0,456.0" fill="none" stroke="#000" stroke-width="1.0" stroke-linejoin="round" stroke-linecap="round" />
<path d="M330.0,474.0 C333.3,473.2 345.0,471.0 350.0,469.0 C355.0,467.0 358.3,463.2 360.0,462.0" fill="none" stroke="#000" stroke-width="1.0" stroke-linejoin="round" stroke-linecap="round" />
<path d="M334.0,478.0 C337.5,476.7 351.5,471.3 355.0,470.0" fill="none" stroke="#000" stroke-width="1.0" stroke-linejoin="round" stroke-linecap="round" />
<path d="M370.0,424.0 C369.2,425.5 366.2,429.5 365.0,433.0 C363.8,436.5 363.2,441.2 363.0,445.0 C362.8,448.8 363.0,452.8 364.0,456.0 C365.0,459.2 368.2,462.7 369.0,464.0" fill="none" stroke="#000" stroke-width="1.0" stroke-linejoin="round" stroke-linecap="round" />
<path d="M376.0,422.0 C375.0,423.3 371.3,427.0 370.0,430.0 C368.7,433.0 368.2,436.3 368.0,440.0 C367.8,443.7 368.3,448.7 369.0,452.0 C369.7,455.3 371.5,458.7 372.0,460.0" fill="none" stroke="#000" stroke-width="1.0" stroke-linejoin="round" stroke-linecap="round" />
<path d="M378.0,422.0 C378.3,425.3 379.7,438.7 380.0,442.0" fill="none" stroke="#000" stroke-width="1.0" stroke-linejoin="round" stroke-linecap="round" />
<path d="M364.0,433.0 C365.0,432.8 369.0,432.2 370.0,432.0" fill="none" stroke="#000" stroke-width="1.0" stroke-linejoin="round" stroke-linecap="round" />
<path d="M364.0,442.0 C365.0,441.8 369.0,441.2 370.0,441.0" fill="none" stroke="#000" stroke-width="1.0" stroke-linejoin="round" stroke-linecap="round" />
<path d="M364.0,450.0 C365.0,449.8 369.0,449.2 370.0,449.0" fill="none" stroke="#000" stroke-width="1.0" stroke-linejoin="round" stroke-linecap="round" />
<path d="M364.0,458.0 C365.0,457.8 369.0,457.2 370.0,457.0" fill="none" stroke="#000" stroke-width="1.0" stroke-linejoin="round" stroke-linecap="round" />
<path d="M360.0,456.0 C361.7,457.3 368.3,462.7 370.0,464.0" fill="none" stroke="#000" stroke-width="1.0" stroke-linejoin="round" stroke-linecap="round" />
<path d="M354.0,488.0 L360.0,490.0 L361.0,500.0 L354.5,489.0" fill="#fff" stroke="#000" stroke-width="1.2" stroke-linejoin="round" stroke-linecap="round"/>
<path d="M355.0,490.0 C355.8,491.0 359.2,495.0 360.0,496.0" fill="none" stroke="#000" stroke-width="1.0" stroke-linejoin="round" stroke-linecap="round" />
<path d="M341.0,438.0 L358.0,424.0 L346.0,442.0 L342.0,452.0 L341.0,438.0" fill="#000" stroke="#000" stroke-width="1.2" stroke-linejoin="round" stroke-linecap="round"/>
<path d="M346.0,444.0 C348.3,446.7 356.3,456.0 360.0,460.0 C363.7,464.0 366.7,466.7 368.0,468.0" fill="none" stroke="#000" stroke-width="2.1" stroke-linejoin="round" stroke-linecap="round" />
<ellipse cx="410.7" cy="475.0" rx="66.5" ry="39.9" transform="rotate(-60 410.7 475.0)" fill="#fff" stroke="#000" stroke-width="2.4"/>
<ellipse cx="412.0" cy="475.8" rx="65.3" ry="39.2" transform="rotate(-60 412.0 475.8)" fill="#fff" stroke="#000" stroke-width="1.0"/>
<ellipse cx="413.7" cy="476.8" rx="64" ry="38.4" transform="rotate(-60 413.7 476.8)" fill="#fff" stroke="#000" stroke-width="3.0"/>
<path d="M447.9,422.6 L513.7,460.6 L449.7,571.4 L383.9,533.4 Z" fill="#fff" stroke="none"/>
<path d="M447.9,422.6 L513.7,460.6 M383.9,533.4 L449.7,571.4" fill="none" stroke="#000" stroke-width="2.3"/>
<path d="M379.7,528.3 C380.8,528.5 384.3,528.1 386.7,529.5 C389.0,530.9 392.2,534.6 393.7,536.5 C395.1,538.5 396.2,540.7 395.4,541.2 C394.6,541.7 391.6,541.6 389.0,539.4 C386.4,537.3 381.2,530.2 379.7,528.3" fill="#fff" stroke="#000" stroke-width="1.3" stroke-linejoin="round" stroke-linecap="round" />
<path d="M380.8,529.5 C382.6,531.1 389.6,537.3 391.3,538.8" fill="none" stroke="#000" stroke-width="1.0" stroke-linejoin="round" stroke-linecap="round" />
<path d="M524.9,474.9 C524.4,473.8 523.7,471.1 521.7,468.4 C519.7,465.7 516.6,461.0 513.0,458.7 C509.4,456.3 505.8,454.2 500.0,454.3 C494.2,454.5 485.0,456.5 478.3,459.8 C471.7,463.0 465.5,467.3 459.9,473.8 C454.3,480.3 448.5,490.1 444.8,498.8 C441.0,507.4 438.1,516.8 437.2,525.8 C436.3,534.9 437.3,545.7 439.3,552.9 C441.3,560.1 444.4,565.4 449.1,569.2 C453.8,573.0 460.8,574.8 467.5,575.7 C474.2,576.6 483.0,576.0 489.2,574.6 C495.3,573.1 501.8,568.3 504.3,567.0" fill="#fff" stroke="#000" stroke-width="2.7" stroke-linejoin="round" stroke-linecap="round" />
<path d="M502.2,458.7 C498.6,459.6 486.8,461.0 480.5,464.1 C474.2,467.2 469.3,471.1 464.3,477.1 C459.2,483.0 453.6,491.7 450.2,499.8 C446.7,508.0 444.4,517.9 443.7,525.8 C442.9,533.8 443.7,540.6 445.8,547.5 C448.0,554.4 452.7,562.7 456.7,567.0 C460.6,571.3 467.5,572.4 469.7,573.5" fill="none" stroke="#000" stroke-width="2.7" stroke-linejoin="round" stroke-linecap="round" />
<path d="M506.5,456.5 C508.3,457.6 514.5,460.5 517.3,463.0 C520.2,465.5 522.8,470.2 523.8,471.7" fill="none" stroke="#000" stroke-width="1.2" stroke-linejoin="round" stroke-linecap="round" />
<path d="M478.3,477.1 C484.1,475.8 505.2,469.7 513.0,469.5 C520.8,469.3 521.7,471.7 524.9,476.0 C528.2,480.3 531.1,489.0 532.5,495.5 C534.0,502.0 534.1,509.9 533.6,515.0 C533.0,520.1 532.0,520.8 529.3,525.8 C526.5,530.9 521.5,538.5 517.3,545.3 C513.2,552.2 512.6,562.3 504.3,567.0 C496.0,571.7 475.8,573.5 467.5,573.5 C459.2,573.5 457.9,572.2 454.5,567.0 C451.1,561.8 448.0,549.0 446.9,542.1 C445.8,535.2 444.9,534.9 448.0,525.8 C451.1,516.8 460.3,496.0 465.3,487.9 C470.4,479.8 476.2,478.9 478.3,477.1" fill="#fff" stroke="#000" stroke-width="2.1" stroke-linejoin="round" stroke-linecap="round" />
<path d="M480.5,480.3 C486.1,479.1 508.5,474.0 514.1,472.8" fill="none" stroke="#000" stroke-width="1.0" stroke-linejoin="round" stroke-linecap="round" />
<path d="M466.4,481.4 L480.5,476.0 L485.9,485.8 L471.8,492.3 Z" fill="#000" stroke="#000" stroke-width="1" stroke-linejoin="round" stroke-linecap="round"/>
<path d="M445.8,525.8 L456.7,526.9 L459.9,543.2 L446.9,544.3 Z" fill="#000" stroke="#000" stroke-width="1" stroke-linejoin="round" stroke-linecap="round"/>
<path d="M448.0,544.3 C448.5,546.6 449.3,554.2 451.3,558.3 C453.2,562.5 458.5,567.4 459.9,569.2" fill="none" stroke="#000" stroke-width="3" stroke-linejoin="round" stroke-linecap="round" />
<path d="M510.8,463.0 C512.3,463.7 517.2,465.3 519.5,467.3 C521.9,469.3 524.0,473.7 524.9,474.9" fill="none" stroke="#000" stroke-width="4" stroke-linejoin="round" stroke-linecap="round" />
<path d="M465.3,487.9 C464.4,494.2 460.8,519.5 459.9,525.8" fill="none" stroke="#000" stroke-width="1.0" stroke-linejoin="round" stroke-linecap="round" />
<path d="M489.2,482.5 C487.0,483.9 479.8,487.2 476.2,491.2 C472.6,495.1 469.7,500.6 467.5,506.3 C465.3,512.1 463.5,519.3 463.2,525.8 C462.8,532.3 463.5,540.3 465.3,545.3 C467.1,550.4 470.0,553.8 474.0,556.2 C478.0,558.5 484.1,559.4 489.2,559.4 C494.2,559.4 499.6,558.5 504.3,556.2 C509.0,553.8 513.9,550.4 517.3,545.3 C520.8,540.3 523.3,532.7 524.9,525.8 C526.5,519.0 527.6,510.5 527.1,504.2 C526.5,497.9 524.4,491.7 521.7,487.9 C519.0,484.1 516.3,482.3 510.8,481.4 C505.4,480.5 492.8,482.3 489.2,482.5" fill="#fff" stroke="#000" stroke-width="2.1" stroke-linejoin="round" stroke-linecap="round" />
<path d="M491.3,486.8 C489.5,488.1 483.6,490.8 480.5,494.4 C477.4,498.0 474.7,503.3 472.9,508.5 C471.1,513.7 469.9,520.1 469.7,525.8 C469.5,531.6 470.2,538.7 471.8,543.2 C473.5,547.7 476.2,550.8 479.4,552.9 C482.7,555.0 487.2,555.6 491.3,555.6 C495.5,555.6 500.4,555.0 504.3,552.9 C508.3,550.8 512.5,547.7 515.2,543.2 C517.9,538.7 519.5,532.0 520.6,525.8 C521.7,519.7 522.2,511.8 521.7,506.3 C521.1,500.9 519.5,496.6 517.3,493.3 C515.2,490.1 513.0,487.9 508.7,486.8 C504.3,485.8 494.2,486.8 491.3,486.8" fill="none" stroke="#000" stroke-width="1.2" stroke-linejoin="round" stroke-linecap="round" />
<path d="M485.9,495.5 C487.5,494.6 492.4,491.0 495.7,490.1 C498.9,489.2 502.5,488.8 505.4,490.1 C508.3,491.4 511.2,494.2 513.0,497.7 C514.8,501.1 516.3,506.3 516.3,510.7 C516.3,515.0 513.5,521.5 513.0,523.7" fill="none" stroke="#000" stroke-width="5" stroke-linejoin="round" stroke-linecap="round" />
<path d="M471.8,520.4 C471.3,523.1 468.2,531.6 468.6,536.7 C468.9,541.7 471.5,547.9 474.0,550.8 C476.5,553.6 482.1,553.5 483.8,554.0" fill="none" stroke="#000" stroke-width="4.5" stroke-linejoin="round" stroke-linecap="round" />
<path d="M495.7,493.3 C497.3,493.0 503.8,491.5 505.4,491.2" fill="none" stroke="#000" stroke-width="2" stroke-linejoin="round" stroke-linecap="round" />
<path d="M480.5,517.2 C480.3,519.5 479.2,527.6 479.4,531.3 C479.6,534.9 480.3,536.5 481.6,538.8 C482.9,541.2 485.4,543.9 487.0,545.3 C488.6,546.8 490.6,547.1 491.3,547.5" fill="none" stroke="#000" stroke-width="2.2" stroke-linejoin="round" stroke-linecap="round" />
<path d="M480.0,515.3 L490.0,512.0 L508.0,513.0 L539.5,531.0 L521.5,540.8 L490.8,523.5 L480.0,521.0" fill="#fff" stroke="#000" stroke-width="2.1" stroke-linejoin="round" stroke-linecap="round"/>
<path d="M480.0,521.0 L479.0,540.0 L490.0,546.0 L521.5,563.3 L521.5,540.8 L490.8,523.5 L480.0,521.0" fill="#fff" stroke="#000" stroke-width="2.1" stroke-linejoin="round" stroke-linecap="round"/>
<path d="M521.5,540.8 L539.5,531.0 L540.3,552.8 L521.5,563.3 L521.5,540.8" fill="#fff" stroke="#000" stroke-width="3" stroke-linejoin="round" stroke-linecap="round"/>
<path d="M492.0,527.0 L520.0,543.0" fill="none" stroke="#000" stroke-width="1.0" stroke-linejoin="round" stroke-linecap="round"/>
<path d="M492.0,523.0 L508.0,515.0" fill="none" stroke="#000" stroke-width="1.2" stroke-linejoin="round" stroke-linecap="round"/>
<ellipse cx="530.5" cy="547.5" rx="2.8" ry="4.3" transform="rotate(20 530.5 547.5)" fill="#fff" stroke="#000" stroke-width="2.2"/>
<path d="M483.8,510.7 C484.3,509.6 485.0,505.8 487.0,504.2 C489.0,502.5 493.1,501.5 495.7,500.9 C498.2,500.4 500.7,500.0 502.2,500.9 C503.6,501.8 504.7,504.7 504.3,506.3 C504.0,508.0 502.2,509.4 500.0,510.7 C497.8,511.9 493.9,513.2 491.3,513.9 C488.8,514.6 485.9,514.8 484.8,515.0" fill="#fff" stroke="#000" stroke-width="2.2" stroke-linejoin="round" stroke-linecap="round" />
<path d="M487.0,508.5 C488.1,508.1 492.1,506.0 493.5,506.3 C494.9,506.7 495.3,509.9 495.7,510.7" fill="none" stroke="#000" stroke-width="3" stroke-linejoin="round" stroke-linecap="round" />
<path d="M497.8,503.1 C498.2,504.2 499.6,508.5 500.0,509.6" fill="none" stroke="#000" stroke-width="3" stroke-linejoin="round" stroke-linecap="round" />
<ellipse cx="782.9" cy="620.4" rx="206.3" ry="127.0" transform="rotate(-60.16 782.9 620.4)" fill="#fff" stroke="#000" stroke-width="2.3"/>
<path d="M721.5,810.8 L717.7,810.3 L714.0,809.6 L710.3,808.8 L706.7,807.8 L703.2,806.6 L699.7,805.3 L696.4,803.8 L693.1,802.1 L689.9,800.3 L686.8,798.3 L683.8,796.2 L680.8,793.9 L678.0,791.4 L675.3,788.8 L672.7,786.1 L670.2,783.1 L667.8,780.1 L665.5,776.9 L663.4,773.6 L661.3,770.1 L659.4,766.5 L657.6,762.7 L655.9,758.9 L654.3,754.9 L652.8,750.8 L651.5,746.6 L650.3,742.2 L649.2,737.8 L648.3,733.2 L647.5,728.6 L646.8,723.9 L646.2,719.0 L645.8,714.1 L645.5,709.1 L645.4,704.0 L645.3,698.9 L645.4,693.7 L645.7,688.4 L646.0,683.0 L646.5,677.7 L647.2,672.2 L647.9,666.7 L648.8,661.2 L649.8,655.6 L651.0,650.0 L652.2,644.4 L653.6,638.8 L655.1,633.2 L656.8,627.5 L658.5,621.9 L660.4,616.2 L662.4,610.6 L664.5,604.9 L666.8,599.3 L669.1,593.7 L671.6,588.2 L674.1,582.6 L676.8,577.1 L679.6,571.7 L682.4,566.3 L685.4,560.9 L688.5,555.6 L691.6,550.4 L694.9,545.3 L698.2,540.2 L701.6,535.2 L705.1,530.2 L708.7,525.4 L712.3,520.6 L716.0,516.0 L719.8,511.4 L723.7,507.0 L727.6,502.6 L731.5,498.4 L735.5,494.3 L739.6,490.3 L743.7,486.4 L747.9,482.6 L752.1,479.0 L756.3,475.5 L760.5,472.1 L764.8,468.9 L769.1,465.9 L773.4,462.9 L777.8,460.2 L782.1,457.5 L786.5,455.0 L790.8,452.7 L795.2,450.6 L799.5,448.6 L803.9,446.7 L808.2,445.0 L812.5,443.5 L816.8,442.1 L821.1,441.0 L825.3,439.9 L829.5,439.1 L833.7,438.4 L837.8,437.9 L841.9,437.6 L845.9,437.4 L849.9,437.4 L853.8,437.6 L857.7,437.9 L861.5,438.4 L865.2,439.1 L868.9,440.0 L872.4,441.0 L876.0,442.2 L879.4,443.5 L882.8,445.1 L886.0,446.7 L889.2,448.6 L892.3,450.6 L895.3,452.8 L898.2,455.1 L901.0,457.6 L903.7,460.2 L906.3,463.0 L908.8,465.9" fill="none" stroke="#000" stroke-width="1.7"/>
<path d="M715.4,807.4 L711.9,806.5 L708.5,805.6 L705.2,804.4 L702.0,803.2 L698.8,801.7 L695.7,800.2 L692.7,798.4 L689.8,796.6 L687.0,794.5 L684.2,792.4 L681.6,790.1 L679.0,787.6 L676.5,785.1 L674.2,782.3 L671.9,779.5 L669.7,776.5 L667.7,773.4 L665.7,770.2 L663.8,766.8 L662.1,763.3 L660.4,759.7 L658.9,756.0 L657.5,752.2 L656.2,748.3 L655.0,744.3 L653.9,740.1 L652.9,735.9 L652.1,731.6 L651.3,727.2 L650.7,722.7 L650.2,718.1 L649.8,713.4 L649.6,708.7 L649.4,703.9 L649.4,699.0 L649.5,694.1 L649.7,689.1 L650.1,684.1 L650.5,679.0 L651.1,673.8 L651.8,668.6 L652.6,663.4 L653.6,658.2 L654.6,652.9 L655.8,647.6 L657.0,642.3 L658.4,636.9 L659.9,631.6 L661.5,626.2 L663.3,620.9 L665.1,615.5 L667.0,610.2 L669.1,604.8 L671.2,599.5 L673.5,594.2 L675.8,589.0 L678.2,583.7 L680.8,578.5 L683.4,573.4 L686.1,568.3 L688.9,563.2 L691.8,558.2 L694.8,553.2 L697.9,548.3 L701.0,543.5 L704.2,538.7 L707.5,534.0 L710.9,529.4 L714.3,524.9 L717.8,520.4 L721.3,516.1 L725.0,511.8 L728.6,507.7 L732.3,503.6 L736.1,499.6 L739.9,495.7 L743.8,492.0 L747.7,488.4 L751.6,484.8 L755.6,481.4 L759.6,478.1 L763.6,475.0 L767.7,471.9 L771.7,469.0 L775.8,466.3 L779.9,463.6 L784.0,461.1 L788.1,458.8 L792.2,456.5 L796.3,454.5 L800.4,452.5 L804.5,450.7 L808.6,449.1 L812.7,447.6 L816.8,446.3 L820.8,445.1 L824.8,444.0 L828.8,443.2 L832.7,442.4 L836.6,441.8 L840.5,441.4 L844.3,441.2 L848.1,441.0 L851.8,441.1 L855.5,441.3 L859.2,441.7 L862.7,442.2 L866.2,442.8 L869.7,443.7 L873.1,444.6 L876.4,445.8 L879.6,447.0 L882.8,448.5 L885.9,450.0 L888.9,451.8 L891.8,453.6 L894.6,455.7 L897.4,457.8 L900.0,460.1 L902.6,462.6" fill="none" stroke="#000" stroke-width="1.1"/>
<ellipse cx="789.8" cy="538.4" rx="30.4" ry="20.5" transform="rotate(-66.6 789.8 538.4)" fill="#fff" stroke="#000" stroke-width="2.3"/>
<path d="M803.3,511.2 L822.8,522.4 L795.8,576.8 L776.3,565.6 Z" fill="#fff" stroke="none"/>
<path d="M803.3,511.2 L822.8,522.4 M795.8,576.8 L776.3,565.6" fill="none" stroke="#000" stroke-width="2.3"/>
<ellipse cx="809.3" cy="549.6" rx="30.4" ry="20.5" transform="rotate(-66.6 809.3 549.6)" fill="#fff" stroke="#000" stroke-width="2.3"/>
<path d="M797.6,575.8 L796.8,575.3 L796.0,574.7 L795.3,574.0 L794.5,573.3 L793.9,572.5 L793.2,571.6 L792.7,570.7 L792.1,569.7 L791.7,568.7 L791.2,567.6 L790.8,566.5 L790.5,565.4 L790.3,564.1 L790.0,562.9 L789.9,561.6 L789.8,560.3 L789.7,559.0 L789.7,557.6 L789.8,556.2 L789.9,554.8 L790.1,553.4 L790.3,552.0 L790.6,550.6 L791.0,549.1 L791.4,547.7 L791.8,546.3 L792.3,544.9 L792.8,543.5 L793.4,542.1 L794.1,540.8 L794.8,539.4 L795.5,538.1 L796.3,536.9 L797.1,535.6 L797.9,534.5 L798.8,533.3 L799.7,532.2 L800.6,531.2 L801.6,530.2 L802.6,529.2 L803.6,528.3 L804.6,527.5 L805.7,526.8 L806.7,526.1 L807.8,525.4 L808.8,524.9 L809.9,524.4 L811.0,523.9 L812.1,523.6 L813.1,523.3 L814.2,523.1 L815.3,523.0 L816.3,522.9 L817.3,522.9 L818.3,523.0 L819.3,523.2 L820.3,523.4 L821.2,523.8 L822.1,524.2 L823.0,524.6" fill="none" stroke="#000" stroke-width="0.9"/>
<g id="body">
<path d="M825.8,637.2 L823.9,636.2 L821.9,635.4 L819.9,634.8 L817.8,634.3 L815.6,634.1 L813.3,633.9 L811.0,634.0 L808.6,634.2 L806.2,634.6 L803.7,635.1 L801.2,635.9 L798.7,636.7 L796.2,637.8 L793.7,639.0 L791.2,640.4 L788.6,641.9 L786.1,643.6 L783.6,645.4 L781.1,647.3 L778.7,649.4 L776.3,651.6 L773.9,654.0 L771.6,656.4 L769.3,659.0 L767.1,661.7 L765.0,664.4 L763.0,667.3 L761.0,670.2 L759.1,673.2 L757.4,676.3 L755.7,679.4 L754.1,682.5 L752.6,685.7 L751.2,689.0 L750.0,692.2 L748.8,695.5 L747.8,698.7 L746.9,702.0 L746.1,705.2 L745.5,708.4 L745.0,711.6 L744.6,714.7 L744.3,717.8 L744.2,720.9 L744.2,723.8 L744.3,726.7 L744.6,729.5 L745.0,732.2 L745.6,734.8 L746.2,737.3 L747.0,739.7 L747.9,742.0 L749.0,744.1 L750.1,746.1 L751.4,748.0 L752.8,749.8 L754.3,751.4 L755.9,752.8 L757.6,754.1 L759.4,755.2 L906.4,837.2 L972.8,719.2 Z" fill="#fff" stroke="none"/>
<path d="M825.8,637.2 L823.9,636.2 L821.9,635.4 L819.9,634.8 L817.8,634.3 L815.6,634.1 L813.3,633.9 L811.0,634.0 L808.6,634.2 L806.2,634.6 L803.7,635.1 L801.2,635.9 L798.7,636.7 L796.2,637.8 L793.7,639.0 L791.2,640.4 L788.6,641.9 L786.1,643.6 L783.6,645.4 L781.1,647.3 L778.7,649.4 L776.3,651.6 L773.9,654.0 L771.6,656.4 L769.3,659.0 L767.1,661.7 L765.0,664.4 L763.0,667.3 L761.0,670.2 L759.1,673.2 L757.4,676.3 L755.7,679.4 L754.1,682.5 L752.6,685.7 L751.2,689.0 L750.0,692.2 L748.8,695.5 L747.8,698.7 L746.9,702.0 L746.1,705.2 L745.5,708.4 L745.0,711.6 L744.6,714.7 L744.3,717.8 L744.2,720.9 L744.2,723.8 L744.3,726.7 L744.6,729.5 L745.0,732.2 L745.6,734.8 L746.2,737.3 L747.0,739.7 L747.9,742.0 L749.0,744.1 L750.1,746.1 L751.4,748.0 L752.8,749.8 L754.3,751.4 L755.9,752.8 L757.6,754.1 L759.4,755.2 L906.4,837.2 M825.8,637.2 L972.8,719.2" fill="none" stroke="#000" stroke-width="2.3" stroke-linejoin="round"/>
<path d="M886.0,671.5 C885.8,671.5 888.6,670.3 884.7,671.2 C880.8,672.1 870.1,672.9 862.5,677.0 C854.9,681.1 846.0,688.1 839.2,695.7 C832.4,703.3 826.0,714.1 821.7,722.5 C817.4,730.9 814.9,738.0 813.5,745.8 C812.1,753.6 812.5,762.6 813.5,769.2 C814.5,775.8 817.9,782.2 819.3,785.5 C820.7,788.8 821.5,788.4 822.0,789.0" fill="none" stroke="#000" stroke-width="1.2"/>
<path d="M905.7,684.0 C903.4,684.8 897.0,686.2 891.7,688.7 C886.5,691.2 880.0,694.9 874.2,699.2 C868.4,703.5 862.5,707.9 856.7,714.3 C850.9,720.7 844.1,730.5 839.2,737.7 C834.3,744.9 830.0,752.2 827.5,757.5 C825.0,762.8 824.2,764.9 824.0,769.2 C823.8,773.5 825.1,779.5 826.3,783.2 C827.5,786.9 829.0,788.9 831.0,791.4 C833.0,793.9 836.8,797.2 838.0,798.4" fill="none" stroke="#000" stroke-width="2.3"/>
<ellipse cx="939.6" cy="778.2" rx="67.7" ry="40.5" transform="rotate(-60.7 939.6 778.2)" fill="#fff" stroke="#000" stroke-width="2.3"/>
<path d="M976.3,723.4 L974.6,722.2 L972.7,721.1 L970.8,720.3 L968.8,719.6 L966.7,719.0 L964.5,718.7 L962.2,718.6 L959.9,718.6 L957.5,718.8 L955.1,719.2 L952.7,719.8 L950.2,720.6 L947.6,721.5 L945.1,722.6 L942.5,723.9 L939.9,725.4 L937.4,727.0 L934.8,728.8 L932.3,730.7 L929.8,732.8 L927.3,735.0 L924.9,737.4 L922.5,739.9 L920.2,742.5 L918.0,745.2 L915.8,748.0 L913.7,750.9 L911.6,753.9 L909.7,757.0 L907.9,760.1 L906.1,763.3 L904.5,766.6 L903.0,769.9 L901.6,773.2 L900.3,776.5 L899.2,779.9 L898.1,783.2 L897.2,786.5 L896.5,789.8 L895.9,793.1 L895.4,796.3 L895.0,799.5 L894.8,802.6 L894.8,805.6 L894.9,808.6 L895.1,811.5 L895.4,814.2 L895.9,816.9 L896.6,819.4 L897.4,821.9 L898.3,824.1 L899.3,826.3 L900.5,828.3 L901.8,830.2 L903.2,831.9 L904.7,833.4 L906.4,834.8 L908.1,836.0 L910.0,837.0 L911.9,837.9" fill="none" stroke="#000" stroke-width="1.2"/>
</g>
<path d="M909,838 L909,996 L928.7,1008.2 L949.7,996 L949.5,829 L930,834 Z" fill="#fff" stroke="none"/>
<path d="M909,840 L909,996 L928.7,1008.2 L949.7,996 L949.5,831 Q949.8,827 953,824.5" fill="none" stroke="#000" stroke-width="2.3" stroke-linejoin="round"/>
<path d="M909,840 Q918,836 925,837.5 L927,838.5 L927.5,1007" fill="none" stroke="#000" stroke-width="1.8"/>
<path d="M925,837 Q929,836 930.5,840 L931,1006" fill="none" stroke="#000" stroke-width="1.2"/>
<path d="M777,323 L777,449 M940.5,419 L940.5,724 M822.5,351.7 L800,339 M894,393 L916,405.5" stroke="#000" stroke-width="1.6" fill="none"/>
<path d="M777,325 L804,332.5 L796,346 Z M940,419 L912.5,411.7 L920.8,400.8 Z" fill="#000"/>
<text x="0" y="0" font-size="45.5" font-family="Liberation Sans, sans-serif" transform="translate(822,387.5) scale(0.93,1)">~85</text>
<path d="M463.7,784.7 L569.2,784.7 L612,760" stroke="#000" stroke-width="1.6" fill="none"/>
<path d="M637.5,745.8 L606.7,755.8 L613.3,767.5 Z" fill="#000"/>
<text x="0" y="0" font-size="45.5" font-family="Liberation Sans, sans-serif" transform="translate(463.5,776) scale(0.93,1)">Ø150</text>
<path d="M937.5,777.5 L1011.7,819.2 M940.7,1003.7 L1012,1044 M1010,846 L1010,907.5 M1010,954 L1010,1017" stroke="#000" stroke-width="1.6" fill="none"/>
<path d="M1011,819 L1002.5,846.7 L1017.5,846.7 Z M1010,1043 L1003,1016.5 L1017,1016.5 Z" fill="#000"/>
<text x="0" y="0" font-size="45.5" font-family="Liberation Sans, sans-serif" transform="translate(975.5,945.5) scale(0.93,1)">100</text>
</svg></body></html>
